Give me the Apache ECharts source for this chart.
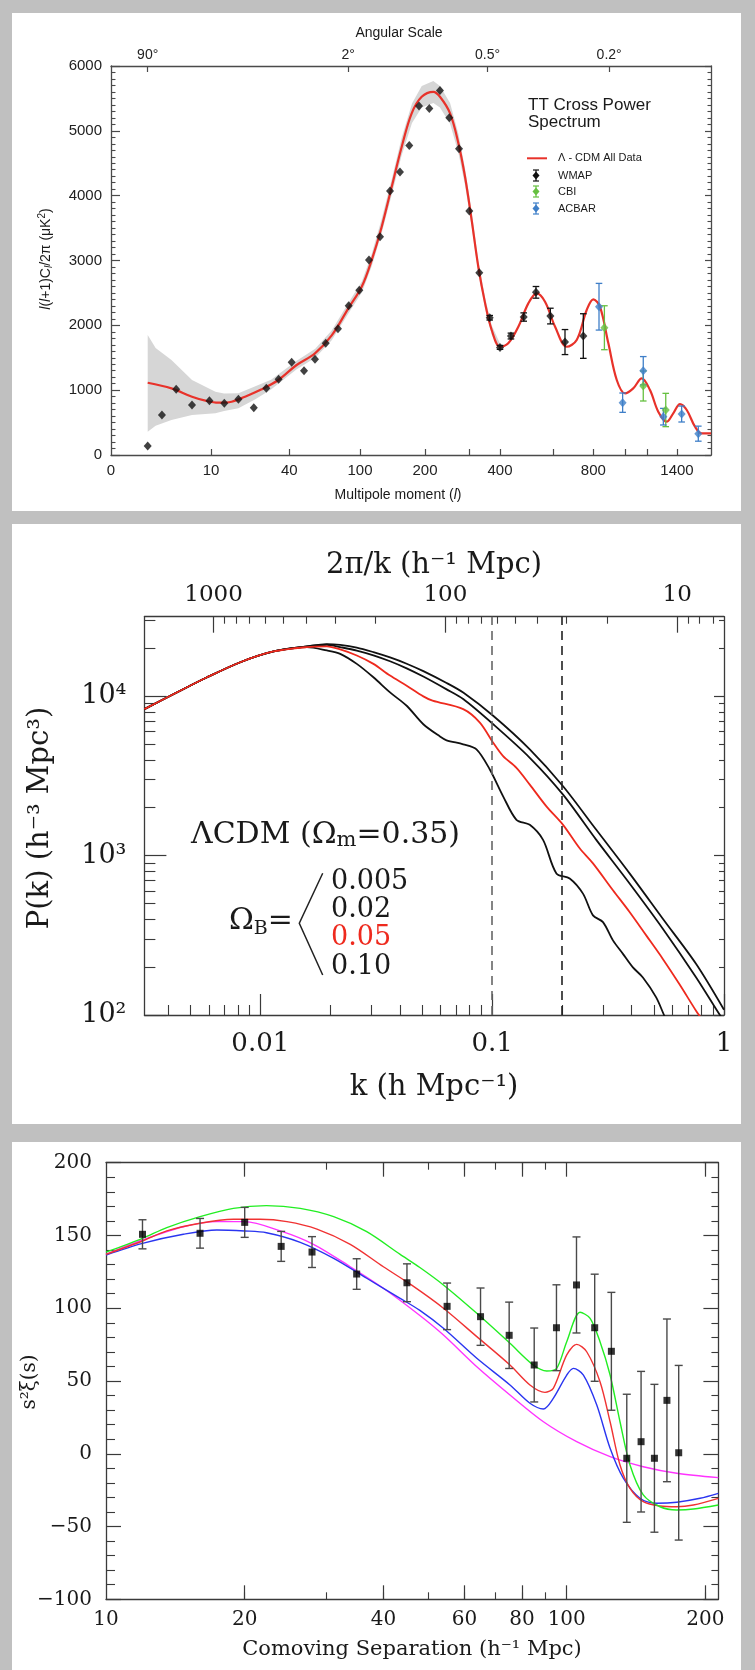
<!DOCTYPE html>
<html><head><meta charset="utf-8">
<script src="https://cdn.jsdelivr.net/npm/echarts@6/dist/echarts.min.js"></script>
<style>html,body{margin:0;padding:0;background:#c0c0c0}#c{width:755px;height:1670px}</style>
</head><body><div id="c"></div>
<script>
// ================= Panel 1 : CMB TT cross power spectrum =================
const ELL_LABELS = [0, 10, 40, 100, 200, 400, 800, 1400];
const ELL_TICKS = [10, 40, 100, 200, 300, 400, 600, 800, 1000, 1200, 1400];
const ANGLE_LABELS = ['90°', '2°', '0.5°', '0.2°'];
const ANGLE_ELL = [2, 90, 360, 900];
// multipole axis scale (ell -> axis unit), the plot's non-linear stretch
const SCALE_ELL = [0, 2, 10, 40, 100, 200, 300, 400, 600, 800, 1000, 1200, 1400, 1600, 1800];
const SCALE_U = [0, 36.7, 100, 178.3, 249, 314, 358, 389, 442.3, 482.3, 514, 536, 566, 596, 626];

const MODEL_ELL = [2, 5, 7.6, 9.3, 12.8, 17.9, 23, 29.4, 35.8, 46.2, 61.8, 76, 90.1, 102.6, 118, 133.4, 148.8, 164.2, 179.5, 194.9, 219, 234, 257, 276, 291, 308.6, 330, 352, 373.2, 400, 431, 468.8, 506.3, 537.8, 569, 609, 667, 717, 767, 800, 842, 895, 948, 1000, 1075, 1152, 1220, 1275, 1331, 1375, 1420, 1465, 1520, 1565, 1627];
const MODEL_CL = [1115, 1028, 899, 838, 807, 822, 899, 1013, 1157, 1388, 1568, 1845, 2262, 2595, 3007, 3521, 4137, 4754, 5269, 5525, 5602, 5525, 5269, 4806, 4292, 3624, 2904, 2339, 1928, 1670, 1722, 1978, 2339, 2493, 2364, 1978, 1670, 1773, 2236, 2401, 2287, 1722, 1157, 951, 1028, 1183, 1002, 668, 514, 643, 786, 694, 437, 334, 334];

const BAND_ELL = [2, 3, 5, 7.6, 11.7, 15, 20.5, 27, 33, 46, 62, 76, 90, 103, 118, 133, 149, 164, 180, 195, 219, 234, 257, 276, 291, 309, 330, 352, 373, 400];
const BAND_LO = [360, 450, 540, 617, 643, 680, 720, 860, 1010, 1320, 1500, 1770, 2180, 2510, 2910, 3410, 4020, 4620, 5120, 5360, 5430, 5360, 5110, 4660, 4160, 3510, 2810, 2260, 1860, 1620];
const BAND_HI = [1850, 1650, 1465, 1157, 977, 950, 951, 1060, 1160, 1450, 1640, 1920, 2340, 2680, 3100, 3630, 4260, 4890, 5420, 5690, 5770, 5690, 5430, 4950, 4420, 3740, 3000, 2420, 2000, 1720];

const WMAP_ELL = [2, 3.8, 5.6, 7.6, 9.8, 15.1, 20.5, 26.4, 31.2, 35.9, 42, 52.5, 61.8, 70.9, 81.3, 90.4, 99.4, 113.8, 130.8, 146.2, 161.5, 175.8, 190.8, 209.8, 234, 255.2, 277.3, 301, 333.2, 366.8, 400, 441, 489, 535, 589, 658.5, 750];
const WMAP_CL = [139, 617, 1013, 771, 838, 797, 859, 729, 1028, 1167, 1429, 1300, 1475, 1722, 1948, 2302, 2540, 3007, 3366, 4071, 4364, 4775, 5382, 5346, 5623, 5201, 4723, 3762, 2811, 2117, 1660, 1835, 2128, 2509, 2143, 1742, 1835];
const WMAP_ERR = [0, 0, 0, 0, 0, 0, 0, 0, 0, 0, 0, 0, 0, 0, 0, 0, 0, 0, 0, 0, 0, 0, 0, 0, 0, 0, 0, 0, 0, 35, 30, 45, 64, 90, 121, 193, 344];
const CBI_ELL = [870, 1166, 1325];
const CBI_CL = [1963, 1064, 694];
const CBI_ERR = [339, 231, 257];
const ACBAR_ELL = [836, 985, 1166, 1309, 1431, 1542];
const ACBAR_CL = [2287, 807, 1300, 591, 632, 329];
const ACBAR_ERR = [360, 149, 218, 128, 123, 116];

// ================= Panel 2 : matter power spectrum =================
const K_TICKS = [0.01, 0.1, 1];
const L_TICKS = [10, 100, 1000];
const P_TICKS = [100, 1000, 10000];
const K_MARKS = [0.1, 0.2];
const K_LOW = [0.003162, 0.004235, 0.005895, 0.0082, 0.01141];
const P_LOW = [8315, 10340, 13170, 16380, 19130];
const K_B005 = [0.01588, 0.01936, 0.0221, 0.02607, 0.03075, 0.03627, 0.04279, 0.05048, 0.0636, 0.075, 0.101, 0.1453, 0.2022, 0.2813, 0.3915, 0.5446, 0.7585, 1.0];
const P_B005 = [20580, 21300, 21050, 20250, 18950, 17550, 16030, 14390, 12130, 10560, 7550, 4648, 2727, 1453, 774, 402, 209, 108];
const K_B02 = [0.01588, 0.01936, 0.0221, 0.02607, 0.03075, 0.03627, 0.04279, 0.05048, 0.0636, 0.075, 0.101, 0.1453, 0.2022, 0.2813, 0.3915, 0.5446, 0.7585, 0.9554, 1.0];
const P_B02 = [20560, 21080, 20380, 19400, 18100, 16610, 14990, 13310, 11060, 9616, 6684, 4117, 2416, 1256, 669, 348, 172, 101, 92];
const K_B05 = [0.01588, 0.01936, 0.0221, 0.02607, 0.03075, 0.03627, 0.04279, 0.05048, 0.0553, 0.075, 0.0885, 0.101, 0.1115, 0.1273, 0.1453, 0.1714, 0.2022, 0.2385, 0.2722, 0.3319, 0.3915, 0.4618, 0.5446, 0.6427, 0.7585, 0.80];
const P_B05 = [20380, 20580, 19700, 18050, 15990, 13500, 11670, 10000, 9400, 8315, 6848, 5122, 4218, 3561, 2794, 2040, 1562, 1113, 895, 607, 443, 316, 225, 156, 106, 95];
const K_B10 = [0.01588, 0.01936, 0.0221, 0.02607, 0.03075, 0.03627, 0.04279, 0.05048, 0.05955, 0.0636, 0.075, 0.0856, 0.0977, 0.1115, 0.1273, 0.1453, 0.1658, 0.1893, 0.216, 0.2465, 0.2722, 0.3006, 0.3319, 0.3665, 0.4046, 0.4469, 0.5099, 0.551, 0.57];
const P_B10 = [20380, 19420, 18490, 15990, 13170, 10590, 8728, 6684, 5600, 5300, 5000, 4648, 3475, 2359, 1680, 1562, 1256, 774, 720, 578, 422, 383, 294, 242, 199, 172, 129, 100, 90];

// ================= Panel 3 : redshift-space correlation function =================
const S_LABELS = [10, 20, 40, 60, 80, 100, 200];
const S_TICKS = [20, 40, 60, 80, 100, 200];
const XI_S = [12, 16, 20, 24, 28, 35, 45, 55, 65, 75, 85, 95, 105, 115, 125, 135, 145, 155, 165, 175];
const XI_V = [150.8, 151.5, 159.0, 142.5, 138.6, 123.5, 117.5, 101.3, 94.2, 81.4, 61.0, 86.6, 116.0, 86.6, 70.4, -3.1, 8.3, -3.1, 36.7, 0.7];
const XI_ERR = [10, 10.2, 10.3, 10.3, 10.6, 10.5, 13, 16, 19.7, 22.8, 25.4, 29.5, 33, 36.8, 40.5, 44, 48.3, 50.8, 55.9, 60];
const GREEN_S = [10, 12, 13.55, 16, 18.9, 22.3, 26.4, 31.2, 36.8, 43.5, 48, 54, 63.8, 75.3, 84.6, 90.5, 95.1, 100, 106.9, 112.4, 118.1, 124.2, 130.5, 137.2, 146.6, 159.4, 173.3, 188.3, 213.3];
const GREEN_V = [138.5, 148.0, 155.4, 162.9, 168.6, 170.5, 168.6, 162.9, 152.6, 137.0, 128.0, 116.0, 96.5, 75.9, 61.0, 56.9, 58.7, 77.0, 97.2, 93.1, 77.0, 54.1, 22.0, -7.7, -28.3, -36.4, -38.6, -38.0, -35.2];
const RED_S = [10, 12, 13.55, 16, 18.9, 21.6, 24.7, 28.7, 33.9, 40, 46, 54, 63.8, 75.3, 83.2, 89.7, 93.5, 100, 105.1, 110.5, 118.1, 124.2, 130.5, 137.2, 146.6, 159.4, 173.3, 188.3, 213.3];
const RED_V = [137.0, 146.2, 153.1, 158.4, 161.1, 161.1, 159.5, 154.4, 143.9, 128.5, 116.0, 100.0, 80.5, 61.0, 47.3, 42.2, 45.0, 67.9, 75.2, 70.1, 49.5, 22.0, -7.7, -23.7, -32.9, -35.9, -36.4, -35.2, -30.6];
const BLUE_S = [10, 12, 14.72, 17.4, 20, 22.3, 26.4, 31.2, 36.8, 43.5, 48, 54, 63.8, 75.3, 83.2, 89, 93.5, 100, 103.4, 108.7, 116.2, 124.2, 132.7, 144.2, 156.8, 173.3, 194.7, 213.3];
const BLUE_V = [136.6, 144.6, 150.8, 153.8, 153.1, 151.9, 145.3, 134.3, 120.6, 106.8, 98.5, 86.2, 65.6, 47.3, 34.7, 30.8, 38.1, 54.1, 58.7, 54.1, 33.5, 3.8, -16.8, -30.6, -34.0, -33.3, -30.6, -27.2];
const MAGENTA_S = [10, 12, 14.72, 17.4, 20, 23.9, 28.2, 33.9, 40, 48, 54, 63.8, 75.3, 89, 105.1, 124.2, 146.6, 173.3, 213.3];
const MAGENTA_V = [137.0, 146.9, 156.0, 159.5, 159.5, 153.1, 143.9, 128.5, 113.7, 95, 81.6, 59.8, 40.4, 22.0, 8.3, -2.0, -8.9, -13.4, -16.4];

// ---------------- helpers ----------------
function ellToU(e) {
  for (let i = 0; i < SCALE_ELL.length - 1; i++) {
    if (e <= SCALE_ELL[i + 1]) {
      const t = (e - SCALE_ELL[i]) / (SCALE_ELL[i + 1] - SCALE_ELL[i]);
      return SCALE_U[i] + t * (SCALE_U[i + 1] - SCALE_U[i]);
    }
  }
  return SCALE_U[SCALE_U.length - 1];
}
function lookupLabel(v, vals, labels) {
  let best = 0, bd = Infinity;
  vals.forEach((x, i) => { const d = Math.abs(ellToU(x) - v); if (d < bd) { bd = d; best = i; } });
  return labels[best];
}
const pairs = (xs, ys, f) => xs.map((x, i) => [f ? f(x) : x, ys[i]]);
const triples = (xs, ys, es, f) => xs.map((x, i) => [f ? f(x) : x, ys[i], es[i]]).filter(d => d[2] > 0);

function errBar(color, cap, width) {
  return function (params, api) {
    const x = api.value(0), y = api.value(1), e = api.value(2);
    const a = api.coord([x, y + e]), b = api.coord([x, y - e]);
    const st = { stroke: color, lineWidth: width };
    return { type: 'group', children: [
      { type: 'line', shape: { x1: a[0], y1: a[1], x2: b[0], y2: b[1] }, style: st },
      { type: 'line', shape: { x1: a[0] - cap, y1: a[1], x2: a[0] + cap, y2: a[1] }, style: st },
      { type: 'line', shape: { x1: b[0] - cap, y1: b[1], x2: b[0] + cap, y2: b[1] }, style: st }
    ] };
  };
}
function bandRender(params, api) {
  const pts = [];
  BAND_ELL.forEach((e, i) => pts.push(api.coord([ellToU(e), BAND_HI[i]])));
  for (let i = BAND_ELL.length - 1; i >= 0; i--) pts.push(api.coord([ellToU(BAND_ELL[i]), BAND_LO[i]]));
  return { type: 'polygon', shape: { points: pts }, style: { fill: '#d6d6d6' } };
}

const F1 = 'Liberation Sans, Arial, sans-serif';
const F2 = 'DejaVu Serif, serif';
const AX1 = '#4a4a4a', AX2 = '#3a3a3a', AX3 = '#3a3a3a';
const RED1 = '#e8322a', RED2 = '#ee2a1e';
const GREEN_CBI = '#66c040', BLUE_ACBAR = '#3f7fc8';

function mk(color, extra) {
  const b = {
    axisLine: { show: true, onZero: false, lineStyle: { color, width: 1.3 } },
    splitLine: { show: false },
    axisTick: { show: true, inside: true, lineStyle: { color, width: 1.2 } },
    minorTick: { show: false, lineStyle: { color, width: 1.1 } },
    axisLabel: { show: false, hideOverlap: false }
  };
  const out = Object.assign({}, b, extra);
  out.axisLine = Object.assign({}, b.axisLine, extra.axisLine || {});
  out.axisTick = Object.assign({}, b.axisTick, extra.axisTick || {});
  out.minorTick = Object.assign({}, b.minorTick, extra.minorTick || {});
  out.axisLabel = Object.assign({}, b.axisLabel, extra.axisLabel || {});
  return out;
}

const xAxes = [
  // 0: panel 1 bottom (multipole)
  mk(AX1, { type: 'value', gridIndex: 0, position: 'bottom', min: 0, max: 600,
    axisTick: { length: 6, customValues: ELL_TICKS.map(ellToU) },
    axisLabel: { show: true, customValues: ELL_LABELS.map(ellToU), formatter: v => String(lookupLabel(v, ELL_LABELS, ELL_LABELS)),
      margin: 8, fontSize: 15, fontFamily: F1, color: '#222' } }),
  // 1: panel 1 top (angular scale)
  mk(AX1, { type: 'value', gridIndex: 0, position: 'top', min: 0, max: 600,
    axisTick: { length: 6, customValues: ANGLE_ELL.map(ellToU) },
    axisLabel: { show: true, customValues: ANGLE_ELL.map(ellToU), formatter: v => lookupLabel(v, ANGLE_ELL, ANGLE_LABELS),
      margin: 4, fontSize: 14, fontFamily: F1, color: '#222' } }),
  // 2: panel 2 bottom k
  mk(AX2, { type: 'log', logBase: 10, gridIndex: 1, position: 'bottom', min: Math.pow(10, -2.5), max: 1,
    axisTick: { length: 21, customValues: K_TICKS },
    minorTick: { show: true, splitNumber: 9, length: 10 },
    axisLabel: { show: true, customValues: K_TICKS, formatter: v => String(+v.toPrecision(3)),
      margin: 16, fontSize: 26, fontFamily: F2, color: '#1a1a1a' } }),
  // 3: panel 2 top 2pi/k
  mk(AX2, { type: 'log', logBase: 10, gridIndex: 1, position: 'top', inverse: true, min: 2 * Math.PI, max: 2 * Math.PI / Math.pow(10, -2.5),
    axisTick: { length: 16, customValues: L_TICKS },
    minorTick: { show: true, splitNumber: 9, length: 7 },
    axisLabel: { show: true, customValues: L_TICKS, formatter: v => String(Math.round(v)),
      margin: 10, fontSize: 23, fontFamily: F2, color: '#1a1a1a' } }),
  // 4: panel 3 bottom s
  mk(AX3, { type: 'log', logBase: 10, gridIndex: 2, position: 'bottom', min: 10, max: 213.4,
    axisTick: { length: 14, customValues: S_TICKS },
    minorTick: { show: true, splitNumber: 9, length: 7 },
    axisLabel: { show: true, customValues: S_LABELS, formatter: v => String(Math.round(v)),
      margin: 10, fontSize: 20, fontFamily: F2, color: '#1a1a1a' } }),
  // 5: panel 3 top
  mk(AX3, { type: 'log', logBase: 10, gridIndex: 2, position: 'top', min: 10, max: 213.4,
    axisTick: { length: 14, customValues: S_TICKS },
    minorTick: { show: true, splitNumber: 9, length: 7 } })
];

const yAxes = [
  // 0: panel 1 left
  mk(AX1, { type: 'value', gridIndex: 0, position: 'left', min: 0, max: 6000, interval: 1000,
    axisTick: { length: 9 }, minorTick: { show: true, splitNumber: 10, length: 4.5 },
    axisLabel: { show: true, margin: 9, fontSize: 15, fontFamily: F1, color: '#222', formatter: v => String(v) } }),
  // 1: panel 1 right
  mk(AX1, { type: 'value', gridIndex: 0, position: 'right', min: 0, max: 6000, interval: 1000,
    axisTick: { length: 6 }, minorTick: { show: true, splitNumber: 10, length: 3.5 } }),
  // 2: panel 2 left
  mk(AX2, { type: 'log', logBase: 10, gridIndex: 1, position: 'left', min: 100, max: Math.pow(10, 4.5),
    axisTick: { length: 22, customValues: P_TICKS },
    minorTick: { show: true, splitNumber: 9, length: 11 },
    axisLabel: { show: true, customValues: P_TICKS, formatter: v => ({ 100: '10²', 1000: '10³', 10000: '10⁴' })[Math.round(v)],
      margin: 18, fontSize: 27, fontFamily: F2, color: '#1a1a1a' } }),
  // 3: panel 2 right
  mk(AX2, { type: 'log', logBase: 10, gridIndex: 1, position: 'right', min: 100, max: Math.pow(10, 4.5),
    axisTick: { length: 10, customValues: P_TICKS },
    minorTick: { show: true, splitNumber: 9, length: 5 } }),
  // 4: panel 3 left
  mk(AX3, { type: 'value', gridIndex: 2, position: 'left', min: -100, max: 200, interval: 50,
    axisTick: { length: 15 }, minorTick: { show: true, splitNumber: 5, length: 9 },
    axisLabel: { show: true, margin: 14, fontSize: 20, fontFamily: F2, color: '#1a1a1a',
      formatter: v => String(v).replace('-', '−') } }),
  // 5: panel 3 right
  mk(AX3, { type: 'value', gridIndex: 2, position: 'right', min: -100, max: 200, interval: 50,
    axisTick: { length: 15 }, minorTick: { show: true, splitNumber: 5, length: 7 } })
];

const noEmph = { disabled: true };
function curve2(K, P, color, name, extra) {
  return Object.assign({ type: 'line', name, xAxisIndex: 2, yAxisIndex: 2, data: pairs(K_LOW.concat(K), P_LOW.concat(P)),
    symbol: 'none', showSymbol: false, smooth: 0.3, clip: true, z: 3, emphasis: noEmph,
    lineStyle: { color, width: 1.8 } }, extra || {});
}
function curve3(S, V, color, name) {
  return { type: 'line', name, xAxisIndex: 4, yAxisIndex: 4, data: pairs(S, V), symbol: 'none', showSymbol: false,
    smooth: 0.3, clip: true, z: 3, emphasis: noEmph, lineStyle: { color, width: 1.4 } };
}

const series = [
  // ---- panel 1 ----
  { type: 'custom', name: 'cosmic variance', xAxisIndex: 0, yAxisIndex: 0, renderItem: bandRender, data: [[0, 0]],
    encode: { x: 0, y: 1 }, z: 1, silent: true },
  { type: 'line', name: 'Λ - CDM All Data', xAxisIndex: 0, yAxisIndex: 0, data: pairs(MODEL_ELL, MODEL_CL, ellToU),
    symbol: 'none', smooth: 0.35, z: 3, emphasis: noEmph, lineStyle: { color: RED1, width: 2.2 } },
  { type: 'custom', name: 'WMAP err', xAxisIndex: 0, yAxisIndex: 0, renderItem: errBar('#111', 3.3, 1.3),
    data: triples(WMAP_ELL, WMAP_CL, WMAP_ERR, ellToU), encode: { x: 0, y: 1 }, z: 4, silent: true },
  { type: 'scatter', name: 'WMAP', xAxisIndex: 0, yAxisIndex: 0, data: pairs(WMAP_ELL, WMAP_CL, ellToU),
    symbol: 'diamond', symbolSize: [8, 9], itemStyle: { color: '#111' }, z: 5, emphasis: noEmph },
  { type: 'custom', name: 'CBI err', xAxisIndex: 0, yAxisIndex: 0, renderItem: errBar(GREEN_CBI, 3.3, 1.3),
    data: triples(CBI_ELL, CBI_CL, CBI_ERR, ellToU), encode: { x: 0, y: 1 }, z: 4, silent: true },
  { type: 'scatter', name: 'CBI', xAxisIndex: 0, yAxisIndex: 0, data: pairs(CBI_ELL, CBI_CL, ellToU),
    symbol: 'diamond', symbolSize: [8, 9], itemStyle: { color: GREEN_CBI }, z: 5, emphasis: noEmph },
  { type: 'custom', name: 'ACBAR err', xAxisIndex: 0, yAxisIndex: 0, renderItem: errBar(BLUE_ACBAR, 3.3, 1.3),
    data: triples(ACBAR_ELL, ACBAR_CL, ACBAR_ERR, ellToU), encode: { x: 0, y: 1 }, z: 4, silent: true },
  { type: 'scatter', name: 'ACBAR', xAxisIndex: 0, yAxisIndex: 0, data: pairs(ACBAR_ELL, ACBAR_CL, ellToU),
    symbol: 'diamond', symbolSize: [8, 9], itemStyle: { color: BLUE_ACBAR }, z: 5, emphasis: noEmph },
  // ---- panel 2 ----
  curve2(K_B005, P_B005, '#111', 'ΩB=0.005', { markLine: { silent: true, symbol: 'none', animation: false, label: { show: false },
    data: [ { xAxis: K_MARKS[0], lineStyle: { color: '#666', type: [9, 6], width: 1.6 } },
            { xAxis: K_MARKS[1], lineStyle: { color: '#222', type: [9, 6], width: 1.6 } } ] } }),
  curve2(K_B02, P_B02, '#111', 'ΩB=0.02'),
  curve2(K_B10, P_B10, '#111', 'ΩB=0.10'),
  curve2(K_B05, P_B05, RED2, 'ΩB=0.05'),
  // ---- panel 3 ----
  curve3(MAGENTA_S, MAGENTA_V, '#ff33ff', 'magenta'),
  curve3(BLUE_S, BLUE_V, '#2a35f0', 'blue'),
  curve3(RED_S, RED_V, '#f03232', 'red'),
  curve3(GREEN_S, GREEN_V, '#22ee22', 'green'),
  { type: 'custom', name: 'xi err', xAxisIndex: 4, yAxisIndex: 4, renderItem: errBar('#4a4a4a', 4, 1.4),
    data: triples(XI_S, XI_V, XI_ERR), encode: { x: 0, y: 1 }, z: 4, silent: true },
  { type: 'scatter', name: 'data', xAxisIndex: 4, yAxisIndex: 4, data: pairs(XI_S, XI_V),
    symbol: 'rect', symbolSize: 7, itemStyle: { color: '#000' }, z: 5, emphasis: noEmph }
];

function txt(x, y, text, size, family, extra) {
  return Object.assign({ type: 'text', x, y, silent: true, z: 100,
    style: Object.assign({ text, fontSize: size, fontFamily: family, fill: '#1a1a1a', align: 'center', verticalAlign: 'middle' }, (extra && extra.style) || {}) },
    extra ? { rotation: extra.rotation || 0 } : {});
}
function diamond(cx, cy, color) {
  return [
    { type: 'line', shape: { x1: cx, y1: cy - 5.5, x2: cx, y2: cy + 5.5 }, style: { stroke: color, lineWidth: 1.2 }, z: 100, silent: true },
    { type: 'line', shape: { x1: cx - 3, y1: cy - 5.5, x2: cx + 3, y2: cy - 5.5 }, style: { stroke: color, lineWidth: 1.2 }, z: 100, silent: true },
    { type: 'line', shape: { x1: cx - 3, y1: cy + 5.5, x2: cx + 3, y2: cy + 5.5 }, style: { stroke: color, lineWidth: 1.2 }, z: 100, silent: true },
    { type: 'polygon', shape: { points: [[cx, cy - 4], [cx + 3.5, cy], [cx, cy + 4], [cx - 3.5, cy]] }, style: { fill: color }, z: 101, silent: true }
  ];
}

const graphics = [
  { type: 'rect', shape: { x: 12, y: 13, width: 729, height: 498 }, style: { fill: '#fff' }, z: -100, silent: true },
  { type: 'rect', shape: { x: 12, y: 524, width: 729, height: 600 }, style: { fill: '#fff' }, z: -100, silent: true },
  { type: 'rect', shape: { x: 12, y: 1142, width: 729, height: 540 }, style: { fill: '#fff' }, z: -100, silent: true },
  // panel 1 titles
  txt(399, 33, 'Angular Scale', 14, F1),
  txt(398, 495, 'Multipole moment ({i|l})', 14, F1, { style: { rich: { i: { fontStyle: 'italic', fontSize: 14, fontFamily: F1 } } } }),
  txt(46, 259, '{i|l}({i|l}+1)C{s|l}/2π (μK{p|2})', 14, F1, { rotation: Math.PI / 2, style: { rich: {
    i: { fontStyle: 'italic', fontSize: 14, fontFamily: F1 },
    s: { fontStyle: 'italic', fontSize: 10, fontFamily: F1, padding: [7, 0, 0, 0] },
    p: { fontSize: 10, fontFamily: F1, padding: [0, 0, 7, 0] } } } }),
  txt(528, 97, 'TT Cross Power\nSpectrum', 17, F1, { style: { align: 'left', verticalAlign: 'top', lineHeight: 17 } }),
  { type: 'line', shape: { x1: 527, y1: 158.3, x2: 547, y2: 158.3 }, style: { stroke: RED1, lineWidth: 2 }, z: 100, silent: true },
  ...diamond(536, 175.5, '#111'),
  ...diamond(536, 191.5, GREEN_CBI),
  ...diamond(536, 208.5, BLUE_ACBAR),
  txt(558, 158.3, 'Λ - CDM All Data', 11, F1, { style: { align: 'left' } }),
  txt(558, 175.5, 'WMAP', 11, F1, { style: { align: 'left' } }),
  txt(558, 191.5, 'CBI', 11, F1, { style: { align: 'left' } }),
  txt(558, 208.5, 'ACBAR', 11, F1, { style: { align: 'left' } }),
  // panel 2 titles & annotations
  txt(434, 565, '2π/k (h⁻¹ Mpc)', 29, F2),
  txt(434, 1087, 'k (h Mpc⁻¹)', 29, F2),
  txt(40, 818, 'P(k) (h⁻³ Mpc³)', 29, F2, { rotation: Math.PI / 2 }),
  txt(191, 835, 'ΛCDM (Ω{m|m}=0.35)', 30, F2, { style: { align: 'left', rich: { m: { fontSize: 21, fontFamily: F2, padding: [12, 0, 0, 0] } } } }),
  txt(229, 921.7, 'Ω{b|B}=', 30, F2, { style: { align: 'left', rich: { b: { fontSize: 19, fontFamily: F2, padding: [14, 0, 0, 0] } } } }),
  { type: 'polyline', shape: { points: [[322.7, 873.3], [299.3, 923.3], [322.7, 975]] }, style: { stroke: '#222', lineWidth: 1.5, fill: null }, z: 100, silent: true },
  txt(331, 881.7, '0.005', 27, F2, { style: { align: 'left' } }),
  txt(331, 910, '0.02', 27, F2, { style: { align: 'left' } }),
  txt(331, 938.3, '0.05', 27, F2, { style: { align: 'left', fill: RED2 } }),
  txt(331, 966.7, '0.10', 27, F2, { style: { align: 'left' } }),
  // panel 3 titles
  txt(412, 1650, 'Comoving Separation (h⁻¹ Mpc)', 21, F2),
  txt(30, 1382, 's²ξ(s)', 20, F2, { rotation: Math.PI / 2 })
];

const option = {
  animation: false,
  backgroundColor: '#c0c0c0',
  grid: [
    { left: 111, top: 66, width: 600, height: 389, outerBoundsMode: 'none', containLabel: false },
    { left: 144.4, top: 616.7, width: 579.6, height: 398.3, outerBoundsMode: 'none', containLabel: false },
    { left: 106, top: 1162.7, width: 612.4, height: 436.6, outerBoundsMode: 'none', containLabel: false }
  ],
  xAxis: xAxes,
  yAxis: yAxes,
  series,
  graphic: { elements: graphics }
};
const chart = echarts.init(document.getElementById('c'), null, { renderer: 'canvas', width: 755, height: 1670 });
chart.setOption(option);
</script>
</body></html>
